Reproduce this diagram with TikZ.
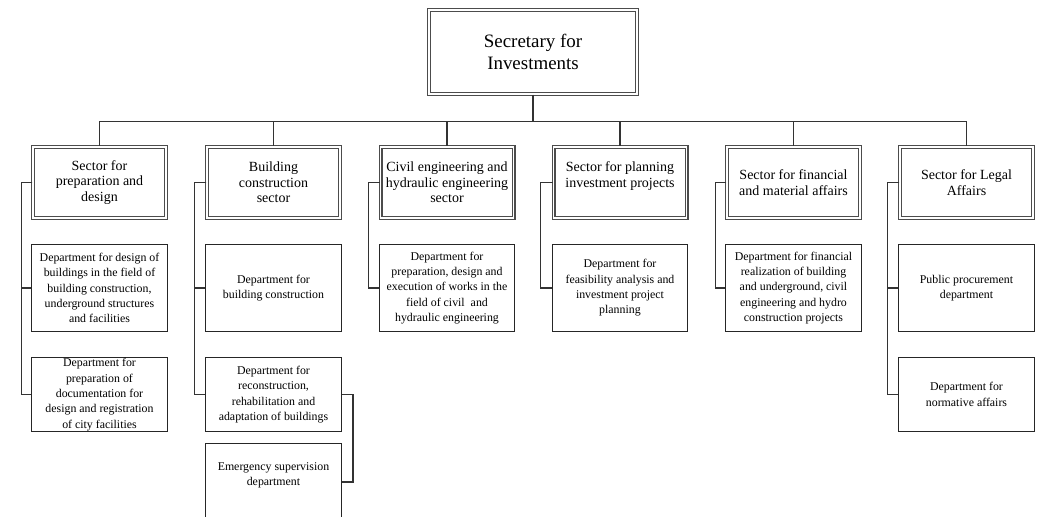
\documentclass[tikz,border=0pt]{standalone}
\usepackage{fontspec}
\setmainfont{Liberation Serif}

\begin{document}
\begin{tikzpicture}[
        x=0.75pt, y=-0.75pt,
        head/.style={rectangle, draw=black!70, double=white, double distance=1.2pt, line width=0.9pt, minimum width=156pt, minimum height=63pt, align=center, font=\fontsize{14.2}{16.5}\selectfont},
        sector/.style={rectangle, draw=black!70, double=white, double distance=1.2pt, line width=0.9pt, minimum width=99.75pt, minimum height=53.25pt, inner sep=1pt, align=center, font=\fontsize{10.5}{11.6}\selectfont},
        dept/.style={rectangle, draw=black!85, line width=0.9pt, minimum width=101.8pt, minimum height=65pt, inner xsep=1pt, inner ysep=0pt, align=center, font=\fontsize{8.9}{11.5}\selectfont},
        deptlow/.style={dept, minimum height=55.3pt},
        link/.style={draw=black!80, line width=0.85pt}
    ]
        \useasboundingbox (0,0) rectangle (1040,517);

        \node[head] (secretary) at (533,52) {Secretary for\\Investments};

        \node[sector] (prep) at (99.5,182.5) {Sector for\\preparation and\\design};
        \node[sector] (building) at (273.5,182.5) {Building\\construction\\sector};
        \node[sector] (civil) at (447,182.5) {Civil engineering and\\hydraulic engineering\\sector};
        \node[sector] (planning) at (620,182.5) {Sector for planning\\investment projects\\ \mbox{}};
        \node[sector] (finance) at (793.5,182.5) {Sector for financial\\and material affairs};
        \node[sector] (legal) at (966.5,182.5) {Sector for Legal\\Affairs};

        \node[dept] (prepdesign) at (99.5,288) {Department for design of\\buildings in the field of\\building construction,\\underground structures\\and facilities};
        \node[deptlow] (prepdocs) at (99.5,394.5) {Department for\\preparation of\\documentation for\\design and registration\\of city facilities};
        \node[dept] (buildconst) at (273.5,288) {Department for\\building construction};
        \node[deptlow] (buildrecon) at (273.5,394.5) {Department for\\reconstruction,\\rehabilitation and\\adaptation of buildings};
        \node[dept, minimum height=57.8pt] (emergency) at (273.5,482) {Emergency supervision\\department\\ \mbox{}};
        \node[dept] (civilworks) at (447,288) {Department for\\preparation, design and\\execution of works in the\\field of civil~ and\\hydraulic engineering};
        \node[dept] (feasibility) at (620,288) {Department for\\feasibility analysis and\\investment project\\planning};
        \node[dept] (realization) at (793.5,288) {Department for financial\\realization of building\\and underground, civil\\engineering and hydro\\construction projects};
        \node[dept] (procurement) at (966.5,288) {Public procurement\\department};
        \node[deptlow] (normative) at (966.5,394.5) {Department for\\normative affairs};

        \coordinate (bus) at (533,121.5);
        \draw[link] (secretary) -- (bus);
        \draw[link] (prep.north |- bus) -- (legal.north |- bus);
        \foreach \s in {prep, building, civil, planning, finance, legal}
            \draw[link] (\s.north |- bus) -- (\s.north);

        \draw[link] (prep.west) -- ++(-11,0) |- (prepdesign.west);
        \draw[link] (prep.west) -- ++(-11,0) |- (prepdocs.west);
        \draw[link] (building.west) -- ++(-12,0) |- (buildconst.west);
        \draw[link] (building.west) -- ++(-12,0) |- (buildrecon.west);
        \draw[link] (buildrecon.east) -- ++(11,0) |- (emergency.east);
        \draw[link] (civil.west) -- ++(-11,0) |- (civilworks.west);
        \draw[link] (planning.west) -- ++(-12,0) |- (feasibility.west);
        \draw[link] (finance.west) -- ++(-11,0) |- (realization.west);
        \draw[link] (legal.west) -- ++(-12,0) |- (procurement.west);
        \draw[link] (legal.west) -- ++(-12,0) |- (normative.west);
    \end{tikzpicture}
\end{document}
